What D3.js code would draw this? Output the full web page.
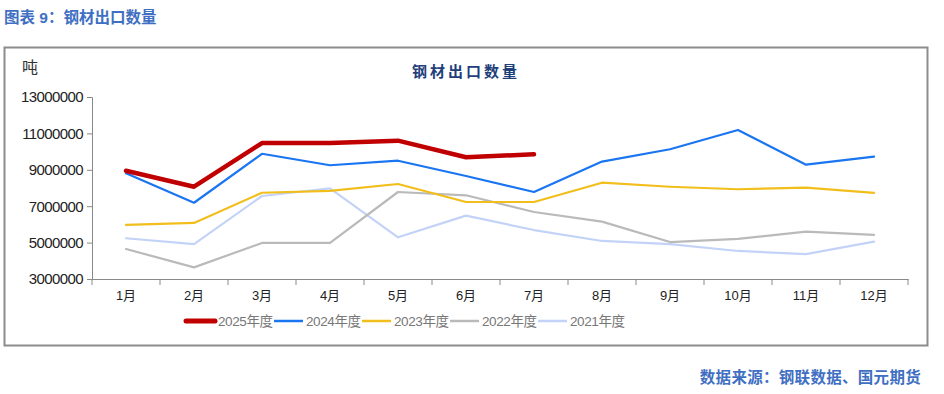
<!DOCTYPE html>
<html>
<head>
<meta charset="utf-8">
<script src="https://cdn.jsdelivr.net/npm/d3@7"></script>
<style>
  body { margin: 0; background: #fff; }
  svg text { font-family: "Liberation Sans", "Noto Sans CJK SC", sans-serif; }
</style>
</head>
<body>
<svg id="chart" width="944" height="394"></svg>
<script>
var months = ['1月','2月','3月','4月','5月','6月','7月','8月','9月','10月','11月','12月'];
var yTicks = [3000000, 5000000, 7000000, 9000000, 11000000, 13000000];
var y2025 = [8950000, 8070000, 10470000, 10470000, 10600000, 9690000, 9850000];
var y2024 = [8810000, 7190000, 9880000, 9250000, 9500000, 8660000, 7780000, 9450000, 10130000, 11190000, 9280000, 9720000];
var y2023 = [5970000, 6080000, 7740000, 7840000, 8220000, 7230000, 7230000, 8290000, 8070000, 7930000, 8020000, 7730000];
var y2022 = [4650000, 3640000, 4980000, 4980000, 7780000, 7600000, 6680000, 6150000, 5030000, 5200000, 5600000, 5420000];
var y2021 = [5240000, 4920000, 7560000, 7980000, 5290000, 6480000, 5690000, 5090000, 4920000, 4540000, 4370000, 5050000];

var series = [
  {name: '2025年度', values: y2025, color: '#C00000', width: 4.5},
  {name: '2024年度', values: y2024, color: '#1A75F2', width: 2.2},
  {name: '2023年度', values: y2023, color: '#F2BE1C', width: 2.2},
  {name: '2022年度', values: y2022, color: '#BABABA', width: 2.2},
  {name: '2021年度', values: y2021, color: '#C3D3F7', width: 2.2}
];

var svg = d3.select('#chart');
var margin = {top: 97, right: 36, bottom: 115, left: 92};
var width = 944, height = 394;

// header + footer
svg.append('text').attr('x', 4).attr('y', 23)
  .attr('fill', '#3F6FC2').attr('font-size', 15.5).attr('font-weight', 'bold')
  .text('图表 9：钢材出口数量');
svg.append('text').attr('x', 921).attr('y', 383).attr('text-anchor', 'end')
  .attr('fill', '#3F6FC2').attr('font-size', 15.5).attr('font-weight', 'bold')
  .attr('letter-spacing', 0.3)
  .text('数据来源：钢联数据、国元期货');

// frame
svg.append('rect').attr('x', 4.5).attr('y', 47.5).attr('width', 923).attr('height', 298)
  .attr('fill', 'none').attr('stroke', '#8C8C8C').attr('stroke-width', 2);

var x = d3.scaleBand().domain(months).range([margin.left, width - margin.right]);
var y = d3.scaleLinear().domain([3000000, 13000000]).range([height - margin.bottom, margin.top]);

svg.append('text').attr('x', 22).attr('y', 73).attr('font-size', 16).attr('fill', '#333')
  .attr('font-family', '"Noto Sans CJK SC"').text('吨');
svg.append('text').attr('x', 466).attr('y', 77).attr('text-anchor', 'middle')
  .attr('font-size', 15).attr('font-weight', 'bold').attr('fill', '#1F3F7A')
  .attr('letter-spacing', 3).attr('font-family', '"Noto Sans CJK SC"').text('钢材出口数量');

var yAxis = svg.append('g').attr('transform', `translate(${margin.left},0)`)
  .call(d3.axisLeft(y).tickValues(yTicks).tickFormat(d3.format('d')).tickSize(5).tickPadding(4));
yAxis.selectAll('text').attr('font-size', 15).attr('fill', '#222').attr('letter-spacing', -0.6);

var xAxis = svg.append('g').attr('transform', `translate(0,${height - margin.bottom})`)
  .call(d3.axisBottom(x).tickSize(0).tickPadding(12));
xAxis.selectAll('text').attr('font-size', 13).attr('fill', '#222');
// band boundary ticks
xAxis.selectAll('line.bt').data(d3.range(13)).enter().append('line')
  .attr('x1', i => margin.left + i * x.step()).attr('x2', i => margin.left + i * x.step())
  .attr('y1', 0).attr('y2', 6).attr('stroke', '#888');
svg.selectAll('.domain, .tick line').attr('stroke', '#888');

var line = d3.line().x((d, i) => x(months[i]) + x.bandwidth() / 2).y(d => y(d));
series.slice().reverse().forEach(s => {
  svg.append('path').datum(s.values).attr('d', line)
    .attr('fill', 'none').attr('stroke', s.color).attr('stroke-width', s.width)
    .attr('stroke-linejoin', 'round').attr('stroke-linecap', 'round');
});

// legend
var lg = svg.append('g').attr('transform', 'translate(0,321)');
series.forEach((s, i) => {
  var g = lg.append('g').attr('transform', `translate(${186 + i * 88},0)`);
  g.append('line').attr('x1', 0).attr('x2', 29).attr('stroke', s.color)
    .attr('stroke-width', i === 0 ? 5 : 2.5).attr('stroke-linecap', i === 0 ? 'round' : 'butt');
  g.append('text').attr('x', 32).attr('y', 5).attr('font-size', 13.5).attr('fill', '#777')
    .attr('letter-spacing', -0.4).text(s.name);
});
</script>
</body>
</html>
